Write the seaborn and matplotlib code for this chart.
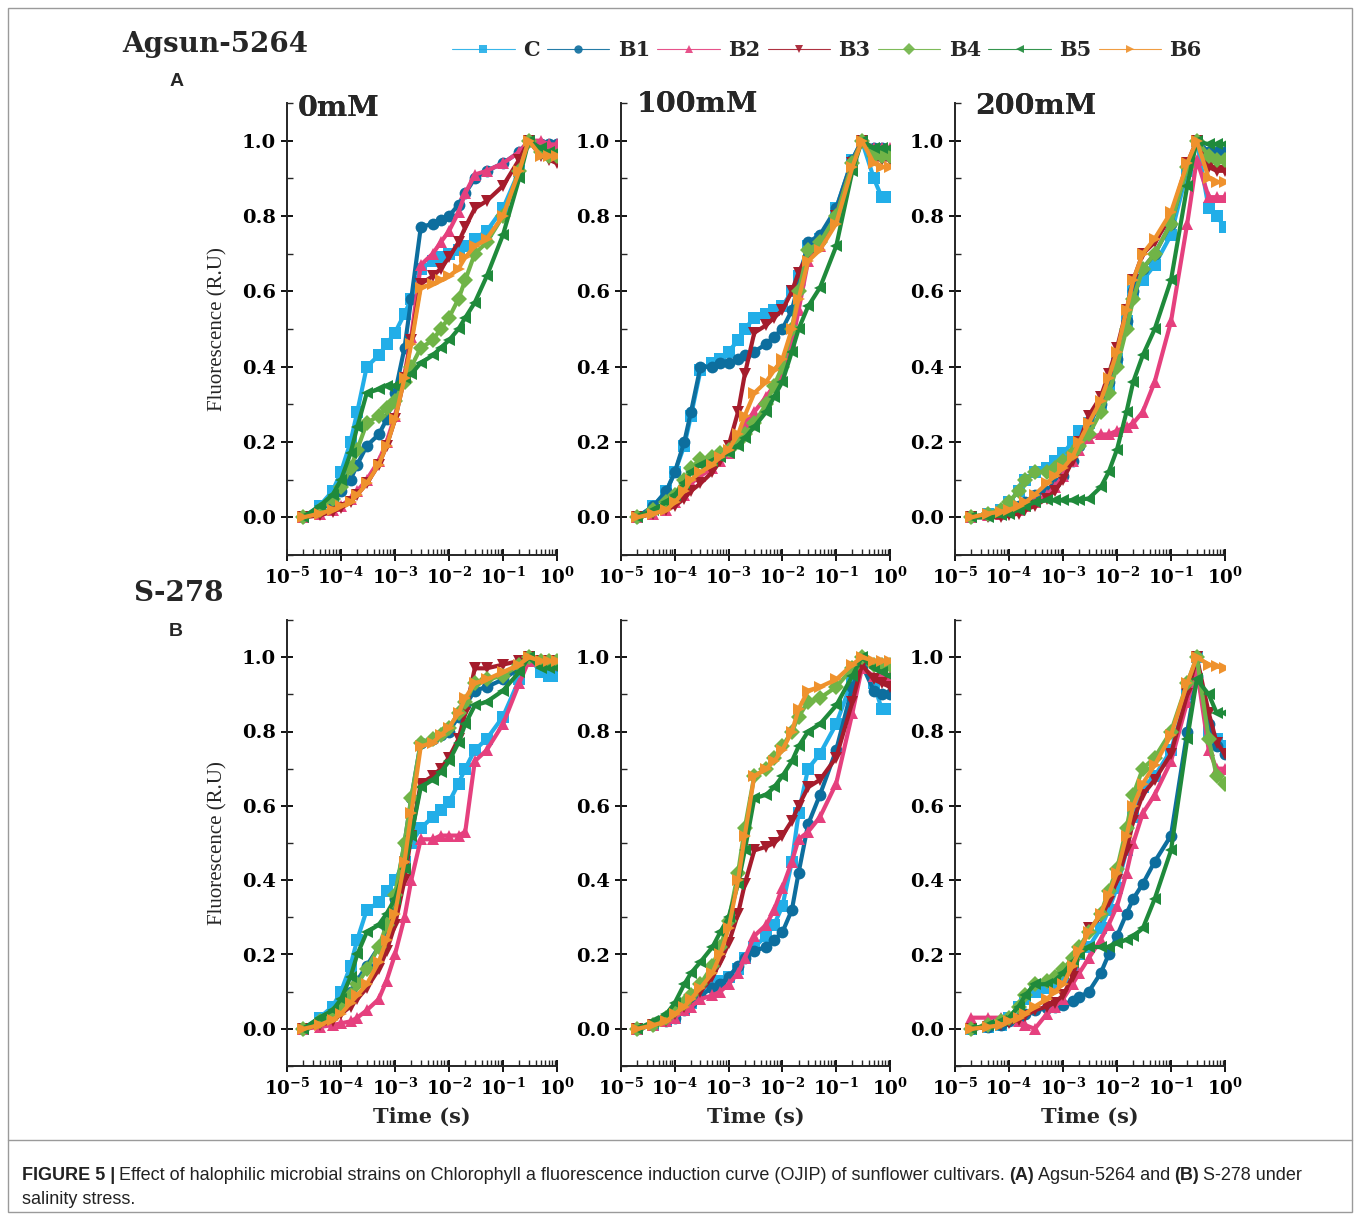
import numpy as np
import pandas as pd
import matplotlib
matplotlib.use('Agg')
import matplotlib.pyplot as plt
import seaborn as sns
from matplotlib.ticker import MultipleLocator, LogLocator, NullFormatter
from matplotlib.lines import Line2D
from matplotlib.patches import Rectangle

# ---- data ----
strains = ['C', 'B1', 'B2', 'B3', 'B4', 'B5', 'B6']
time_s = [2e-5, 4e-5, 7e-5, 1e-4, 1.5e-4, 2e-4, 3e-4, 5e-4, 7e-4, 1e-3, 1.5e-3, 2e-3, 3e-3,
          5e-3, 7e-3, 1e-2, 1.5e-2, 2e-2, 3e-2, 5e-2, 0.1, 0.2, 0.3, 0.5, 0.7, 1.0]

# Agsun-5264, 0mM
a0_C = [0, 0.03, 0.07, 0.12, 0.20, 0.28, 0.40, 0.43, 0.46, 0.49, 0.54, 0.58, 0.66, 0.68, 0.69, 0.70, 0.71, 0.72, 0.74, 0.76, 0.82, 0.92, 1.00, 0.98, 0.97, 0.97]
a0_B1 = [0, 0.02, 0.04, 0.07, 0.10, 0.14, 0.19, 0.22, 0.26, 0.33, 0.45, 0.58, 0.77, 0.78, 0.79, 0.80, 0.83, 0.86, 0.90, 0.92, 0.94, 0.97, 1.00, 0.99, 0.99, 0.99]
a0_B2 = [0, 0.01, 0.02, 0.03, 0.05, 0.07, 0.10, 0.15, 0.20, 0.27, 0.38, 0.48, 0.67, 0.70, 0.73, 0.76, 0.81, 0.86, 0.91, 0.92, 0.94, 0.97, 1.00, 1.00, 0.99, 0.99]
a0_B3 = [0, 0.005, 0.015, 0.025, 0.04, 0.06, 0.09, 0.14, 0.19, 0.26, 0.37, 0.47, 0.62, 0.64, 0.66, 0.69, 0.73, 0.77, 0.82, 0.84, 0.88, 0.95, 1.00, 0.96, 0.95, 0.94]
a0_B4 = [0, 0.02, 0.05, 0.08, 0.13, 0.18, 0.25, 0.27, 0.29, 0.31, 0.36, 0.40, 0.45, 0.47, 0.50, 0.53, 0.58, 0.63, 0.70, 0.73, 0.80, 0.92, 1.00, 0.97, 0.96, 0.96]
a0_B5 = [0, 0.03, 0.06, 0.10, 0.17, 0.24, 0.33, 0.34, 0.35, 0.35, 0.37, 0.38, 0.41, 0.43, 0.45, 0.47, 0.50, 0.53, 0.57, 0.64, 0.75, 0.90, 1.00, 0.98, 0.97, 0.97]
a0_B6 = [0, 0.01, 0.02, 0.03, 0.04, 0.06, 0.09, 0.14, 0.19, 0.26, 0.37, 0.46, 0.61, 0.62, 0.63, 0.64, 0.66, 0.69, 0.72, 0.74, 0.80, 0.92, 1.00, 0.96, 0.96, 0.96]

# Agsun-5264, 100mM
a1_C = [0, 0.03, 0.07, 0.12, 0.19, 0.27, 0.39, 0.41, 0.42, 0.44, 0.47, 0.50, 0.53, 0.54, 0.55, 0.56, 0.60, 0.64, 0.72, 0.74, 0.82, 0.95, 1.00, 0.90, 0.85, 0.85]
a1_B1 = [0, 0.03, 0.07, 0.12, 0.20, 0.28, 0.40, 0.40, 0.41, 0.41, 0.42, 0.43, 0.44, 0.46, 0.48, 0.50, 0.55, 0.62, 0.73, 0.75, 0.82, 0.95, 1.00, 0.98, 0.98, 0.97]
a1_B2 = [0, 0.01, 0.02, 0.04, 0.06, 0.09, 0.11, 0.13, 0.15, 0.17, 0.21, 0.25, 0.28, 0.32, 0.35, 0.38, 0.46, 0.55, 0.68, 0.72, 0.80, 0.94, 1.00, 0.98, 0.98, 0.98]
a1_B3 = [0, 0.01, 0.02, 0.03, 0.05, 0.07, 0.09, 0.12, 0.15, 0.19, 0.28, 0.38, 0.49, 0.51, 0.53, 0.55, 0.60, 0.65, 0.70, 0.72, 0.80, 0.94, 1.00, 0.95, 0.95, 0.95]
a1_B4 = [0, 0.02, 0.04, 0.06, 0.10, 0.13, 0.155, 0.16, 0.17, 0.18, 0.20, 0.22, 0.25, 0.30, 0.35, 0.40, 0.50, 0.60, 0.71, 0.73, 0.80, 0.94, 1.00, 0.96, 0.96, 0.96]
a1_B5 = [0, 0.02, 0.04, 0.06, 0.09, 0.12, 0.14, 0.15, 0.16, 0.17, 0.19, 0.21, 0.24, 0.28, 0.32, 0.36, 0.44, 0.50, 0.56, 0.61, 0.72, 0.92, 1.00, 0.98, 0.98, 0.98]
a1_B6 = [0, 0.01, 0.02, 0.04, 0.07, 0.10, 0.12, 0.14, 0.16, 0.18, 0.22, 0.27, 0.33, 0.36, 0.39, 0.42, 0.50, 0.58, 0.68, 0.71, 0.78, 0.93, 1.00, 0.94, 0.93, 0.93]

# Agsun-5264, 200mM
a2_C = [0, 0.01, 0.02, 0.04, 0.07, 0.10, 0.12, 0.13, 0.15, 0.17, 0.20, 0.23, 0.25, 0.30, 0.35, 0.42, 0.52, 0.60, 0.63, 0.67, 0.75, 0.92, 1.00, 0.82, 0.80, 0.77]
a2_B1 = [0, 0.005, 0.01, 0.02, 0.03, 0.04, 0.06, 0.07, 0.09, 0.11, 0.15, 0.19, 0.25, 0.30, 0.36, 0.42, 0.52, 0.60, 0.66, 0.70, 0.78, 0.93, 1.00, 0.97, 0.97, 0.97]
a2_B2 = [0, 0.005, 0.01, 0.015, 0.02, 0.03, 0.04, 0.06, 0.08, 0.11, 0.15, 0.18, 0.21, 0.22, 0.22, 0.23, 0.24, 0.25, 0.28, 0.36, 0.52, 0.78, 0.95, 0.85, 0.85, 0.85]
a2_B3 = [0, 0, 0, 0.005, 0.01, 0.02, 0.03, 0.05, 0.07, 0.10, 0.15, 0.20, 0.27, 0.32, 0.38, 0.45, 0.55, 0.63, 0.70, 0.73, 0.80, 0.94, 1.00, 0.93, 0.92, 0.92]
a2_B4 = [0, 0.01, 0.02, 0.04, 0.07, 0.10, 0.12, 0.12, 0.13, 0.15, 0.17, 0.19, 0.22, 0.28, 0.33, 0.40, 0.50, 0.58, 0.66, 0.70, 0.78, 0.93, 1.00, 0.96, 0.95, 0.95]
a2_B5 = [0, 0, 0.005, 0.01, 0.02, 0.03, 0.04, 0.045, 0.045, 0.045, 0.045, 0.047, 0.05, 0.08, 0.12, 0.18, 0.28, 0.36, 0.43, 0.50, 0.63, 0.88, 1.00, 0.99, 0.99, 0.99]
a2_B6 = [0, 0.01, 0.015, 0.02, 0.03, 0.04, 0.06, 0.09, 0.11, 0.13, 0.16, 0.20, 0.25, 0.31, 0.37, 0.44, 0.55, 0.63, 0.70, 0.74, 0.81, 0.94, 1.00, 0.90, 0.89, 0.89]

# S-278, 0mM
b0_C = [0, 0.03, 0.06, 0.10, 0.17, 0.24, 0.32, 0.34, 0.37, 0.40, 0.45, 0.50, 0.54, 0.57, 0.59, 0.61, 0.66, 0.70, 0.75, 0.78, 0.84, 0.94, 1.00, 0.96, 0.95, 0.95]
b0_B1 = [0, 0.02, 0.04, 0.06, 0.10, 0.13, 0.17, 0.22, 0.27, 0.35, 0.50, 0.62, 0.77, 0.78, 0.79, 0.80, 0.84, 0.87, 0.91, 0.92, 0.94, 0.97, 1.00, 0.99, 0.99, 0.98]
b0_B2 = [0, 0.005, 0.01, 0.015, 0.02, 0.03, 0.05, 0.08, 0.13, 0.20, 0.30, 0.40, 0.51, 0.51, 0.52, 0.52, 0.52, 0.53, 0.72, 0.75, 0.82, 0.93, 0.99, 0.99, 0.99, 0.98]
b0_B3 = [0, 0.01, 0.02, 0.04, 0.06, 0.08, 0.11, 0.16, 0.21, 0.28, 0.40, 0.52, 0.66, 0.68, 0.70, 0.73, 0.78, 0.85, 0.97, 0.97, 0.98, 0.99, 1.00, 0.99, 0.99, 0.99]
b0_B4 = [0, 0.02, 0.04, 0.06, 0.09, 0.12, 0.16, 0.22, 0.28, 0.36, 0.50, 0.62, 0.77, 0.78, 0.79, 0.81, 0.85, 0.88, 0.93, 0.94, 0.95, 0.98, 1.00, 0.99, 0.99, 0.99]
b0_B5 = [0, 0.03, 0.05, 0.08, 0.14, 0.20, 0.26, 0.28, 0.31, 0.35, 0.43, 0.52, 0.65, 0.67, 0.69, 0.72, 0.77, 0.82, 0.87, 0.88, 0.91, 0.96, 1.00, 0.97, 0.97, 0.97]
b0_B6 = [0, 0.01, 0.025, 0.04, 0.07, 0.09, 0.12, 0.18, 0.24, 0.31, 0.45, 0.58, 0.76, 0.77, 0.79, 0.81, 0.85, 0.89, 0.93, 0.94, 0.96, 0.98, 1.00, 0.99, 0.99, 0.99]

# S-278, 100mM
b1_C = [0, 0.01, 0.02, 0.03, 0.05, 0.07, 0.10, 0.12, 0.13, 0.14, 0.16, 0.19, 0.22, 0.25, 0.28, 0.33, 0.45, 0.58, 0.70, 0.74, 0.82, 0.94, 0.98, 0.93, 0.86, 0.86]
b1_B1 = [0, 0.01, 0.02, 0.03, 0.05, 0.07, 0.09, 0.11, 0.12, 0.14, 0.17, 0.19, 0.21, 0.22, 0.24, 0.26, 0.32, 0.42, 0.55, 0.63, 0.75, 0.92, 0.98, 0.91, 0.90, 0.90]
b1_B2 = [0, 0.01, 0.02, 0.03, 0.05, 0.06, 0.08, 0.09, 0.10, 0.12, 0.15, 0.19, 0.25, 0.28, 0.32, 0.38, 0.45, 0.51, 0.53, 0.57, 0.66, 0.85, 0.97, 0.95, 0.95, 0.95]
b1_B3 = [0, 0.01, 0.02, 0.04, 0.06, 0.08, 0.10, 0.14, 0.18, 0.23, 0.31, 0.39, 0.48, 0.49, 0.50, 0.52, 0.56, 0.60, 0.65, 0.67, 0.73, 0.88, 0.98, 0.94, 0.93, 0.92]
b1_B4 = [0, 0.01, 0.03, 0.05, 0.07, 0.09, 0.12, 0.17, 0.22, 0.29, 0.42, 0.54, 0.68, 0.70, 0.73, 0.76, 0.80, 0.84, 0.88, 0.89, 0.92, 0.97, 1.00, 0.98, 0.98, 0.98]
b1_B5 = [0, 0.02, 0.04, 0.07, 0.12, 0.15, 0.18, 0.22, 0.26, 0.30, 0.39, 0.48, 0.62, 0.63, 0.65, 0.68, 0.72, 0.76, 0.80, 0.82, 0.87, 0.95, 1.00, 0.97, 0.96, 0.95]
b1_B6 = [0, 0.01, 0.02, 0.04, 0.06, 0.08, 0.11, 0.15, 0.20, 0.27, 0.40, 0.52, 0.68, 0.70, 0.72, 0.75, 0.80, 0.86, 0.91, 0.92, 0.94, 0.98, 1.00, 0.99, 0.99, 0.99]

# S-278, 200mM
b2_C = [0, 0.005, 0.01, 0.03, 0.06, 0.08, 0.10, 0.11, 0.12, 0.14, 0.17, 0.20, 0.22, 0.27, 0.32, 0.38, 0.48, 0.57, 0.65, 0.68, 0.75, 0.90, 1.00, 0.80, 0.78, 0.76]
b2_B1 = [0, 0.005, 0.01, 0.02, 0.03, 0.04, 0.05, 0.055, 0.06, 0.065, 0.075, 0.085, 0.10, 0.15, 0.20, 0.25, 0.31, 0.35, 0.39, 0.45, 0.52, 0.80, 0.95, 0.82, 0.76, 0.74]
b2_B2 = [0.03, 0.03, 0.03, 0.03, 0.02, 0.01, 0.00, 0.04, 0.06, 0.08, 0.12, 0.15, 0.19, 0.24, 0.28, 0.33, 0.42, 0.50, 0.58, 0.63, 0.72, 0.88, 0.97, 0.75, 0.70, 0.70]
b2_B3 = [0, 0.005, 0.01, 0.015, 0.025, 0.035, 0.05, 0.06, 0.07, 0.09, 0.14, 0.20, 0.27, 0.30, 0.34, 0.40, 0.48, 0.56, 0.63, 0.67, 0.74, 0.90, 1.00, 0.85, 0.77, 0.74]
b2_B4 = [0, 0.01, 0.02, 0.03, 0.06, 0.09, 0.12, 0.13, 0.14, 0.16, 0.19, 0.22, 0.26, 0.31, 0.37, 0.43, 0.54, 0.63, 0.70, 0.73, 0.80, 0.93, 1.00, 0.78, 0.68, 0.66]
b2_B5 = [0, 0.01, 0.02, 0.03, 0.06, 0.09, 0.12, 0.12, 0.13, 0.15, 0.18, 0.20, 0.22, 0.22, 0.22, 0.23, 0.24, 0.25, 0.27, 0.35, 0.48, 0.78, 0.94, 0.90, 0.85, 0.85]
b2_B6 = [0, 0.005, 0.01, 0.02, 0.03, 0.04, 0.06, 0.08, 0.10, 0.12, 0.17, 0.21, 0.26, 0.31, 0.36, 0.42, 0.52, 0.60, 0.66, 0.71, 0.79, 0.93, 1.00, 0.98, 0.975, 0.97]

panels = [
    ('Agsun-5264', '0mM', [a0_C, a0_B1, a0_B2, a0_B3, a0_B4, a0_B5, a0_B6]),
    ('Agsun-5264', '100mM', [a1_C, a1_B1, a1_B2, a1_B3, a1_B4, a1_B5, a1_B6]),
    ('Agsun-5264', '200mM', [a2_C, a2_B1, a2_B2, a2_B3, a2_B4, a2_B5, a2_B6]),
    ('S-278', '0mM', [b0_C, b0_B1, b0_B2, b0_B3, b0_B4, b0_B5, b0_B6]),
    ('S-278', '100mM', [b1_C, b1_B1, b1_B2, b1_B3, b1_B4, b1_B5, b1_B6]),
    ('S-278', '200mM', [b2_C, b2_B1, b2_B2, b2_B3, b2_B4, b2_B5, b2_B6]),
]

colors = {'C': '#22aee8', 'B1': '#0d6e9e', 'B2': '#e5407e', 'B3': '#a51c2c',
          'B4': '#70b447', 'B5': '#1f8a3b', 'B6': '#ef922d'}
markers = {'C': 's', 'B1': 'o', 'B2': '^', 'B3': 'v', 'B4': 'D', 'B5': '<', 'B6': '>'}

rows = []
for cultivar, salt, series in panels:
    for s, vals in zip(strains, series):
        for t, v in zip(time_s, vals):
            rows.append((cultivar, salt, s, t, v))
df = pd.DataFrame(rows, columns=['cultivar', 'salt', 'strain', 'time', 'fluor'])

# ---- style ----
sns.set_style('ticks')
plt.rcParams['font.family'] = ['DejaVu Serif']
plt.rcParams['mathtext.fontset'] = 'dejavuserif'
plt.rcParams['axes.linewidth'] = 1.4

W, H = 1360, 1217
fig = plt.figure(figsize=(W / 100, H / 100), dpi=100)


def fx(x):
    return x / W


def fy(y):
    return 1 - y / H


col_px = [(287, 557), (621, 890), (955, 1225)]
row_px = [(103, 555), (620, 1066)]
xt = [1e-5, 1e-4, 1e-3, 1e-2, 1e-1, 1]
xt_lab = [r'$\mathbf{10^{-5}}$', r'$\mathbf{10^{-4}}$', r'$\mathbf{10^{-3}}$',
          r'$\mathbf{10^{-2}}$', r'$\mathbf{10^{-1}}$', r'$\mathbf{10^{0}}$']
yt = [0, 0.2, 0.4, 0.6, 0.8, 1.0]
title_y = [108, 104, 107]
title_dx = [11, 16, 20]

for i, (cultivar, salt, _) in enumerate(panels):
    r, c = divmod(i, 3)
    (l, rr), (t, b) = col_px[c], row_px[r]
    ax = fig.add_axes([fx(l), fy(b), (rr - l) / W, (b - t) / H])
    ax.set_xscale('log')
    sub = df[(df.cultivar == cultivar) & (df.salt == salt)]
    sns.lineplot(data=sub, x='time', y='fluor', hue='strain', style='strain',
                 hue_order=strains, style_order=strains, palette=colors,
                 markers=markers, dashes=False, markersize=8.5, markeredgewidth=0,
                 linewidth=3, estimator=None, sort=False, legend=False, ax=ax)
    ax.set_xlim(1e-5, 1)
    ax.set_ylim(-0.1, 1.1)
    ax.set_xticks(xt, xt_lab)
    ax.xaxis.set_minor_locator(LogLocator(base=10, subs=np.arange(2, 10) * 1.0, numticks=20))
    ax.xaxis.set_minor_formatter(NullFormatter())
    ax.set_yticks(yt, ['%.1f' % v for v in yt])
    ax.yaxis.set_minor_locator(MultipleLocator(0.1))
    ax.tick_params(which='major', direction='inout', length=8, width=1.3,
                   labelsize=14, pad=4, colors='black')
    ax.tick_params(axis='x', which='major', labelsize=13.2, pad=4)
    for lab in ax.get_yticklabels():
        lab.set_fontweight('bold')
    ax.tick_params(which='minor', direction='in', length=4, width=1)
    sns.despine(ax=ax)
    ax.set_xlabel('')
    ax.set_ylabel('')
    fig.text(fx(l + title_dx[c]), fy(title_y[c]), salt, fontsize=20.5, fontweight='bold',
             ha='left', va='center')
    if c == 0:
        ax.set_ylabel('Fluorescence (R.U)', family='Liberation Serif', fontsize=15,
                      labelpad=10)
    if r == 1:
        ax.set_xlabel('Time (s)', fontsize=15, fontweight='bold', labelpad=6)

# cultivar headers and panel letters
fig.text(fx(122), fy(44), 'Agsun-5264', fontsize=20, fontweight='bold', va='center')
fig.text(fx(133), fy(594), 'S-278', fontsize=20, fontweight='bold', va='center')
fig.text(fx(170), fy(81), 'A', family='Liberation Sans', fontsize=14, fontweight='bold', va='center')
fig.text(fx(169), fy(632), 'B', family='Liberation Sans', fontsize=14, fontweight='bold', va='center')

# legend
handles = [Line2D([], [], color=colors[s], marker=markers[s], markersize=6,
                  markeredgewidth=0, linewidth=0.8, alpha=0.9) for s in strains]
fig.legend(handles, strains, ncol=7, loc='center', bbox_to_anchor=(fx(827), fy(50)),
           frameon=False, prop={'weight': 'bold', 'size': 15}, handlelength=3.0,
           handletextpad=0.4, columnspacing=0.35)

# frame and caption
fig.patches.append(Rectangle((fx(8), fy(1212)), (1352 - 8) / W, (1212 - 8) / H,
                             transform=fig.transFigure, fill=False, ec='#9a9a9a', lw=1))
fig.lines.append(Line2D([fx(8), fx(1352)], [fy(1140), fy(1140)],
                        transform=fig.transFigure, color='#9a9a9a', lw=1))

renderer = fig.canvas.get_renderer()
cap_font = ['Liberation Sans Narrow', 'Liberation Sans']


def caption_line(x, y, parts, size=13.0):
    for txt, bold in parts:
        tx = fig.text(fx(x), fy(y), txt, family=cap_font, fontsize=size,
                      fontweight='bold' if bold else 'normal', color='#222222',
                      va='center', ha='left')
        x += tx.get_window_extent(renderer=renderer).width + 4


caption_line(22, 1175, [('FIGURE 5 |', True),
                        ('Effect of halophilic microbial strains on Chlorophyll a fluorescence induction '
                         'curve (OJIP) of sunflower cultivars.', False),
                        ('(A)', True), ('Agsun-5264 and', False), ('(B)', True),
                        ('S-278 under', False)])
caption_line(22, 1200, [('salinity stress.', False)])

fig.savefig('out.png', dpi=100)
